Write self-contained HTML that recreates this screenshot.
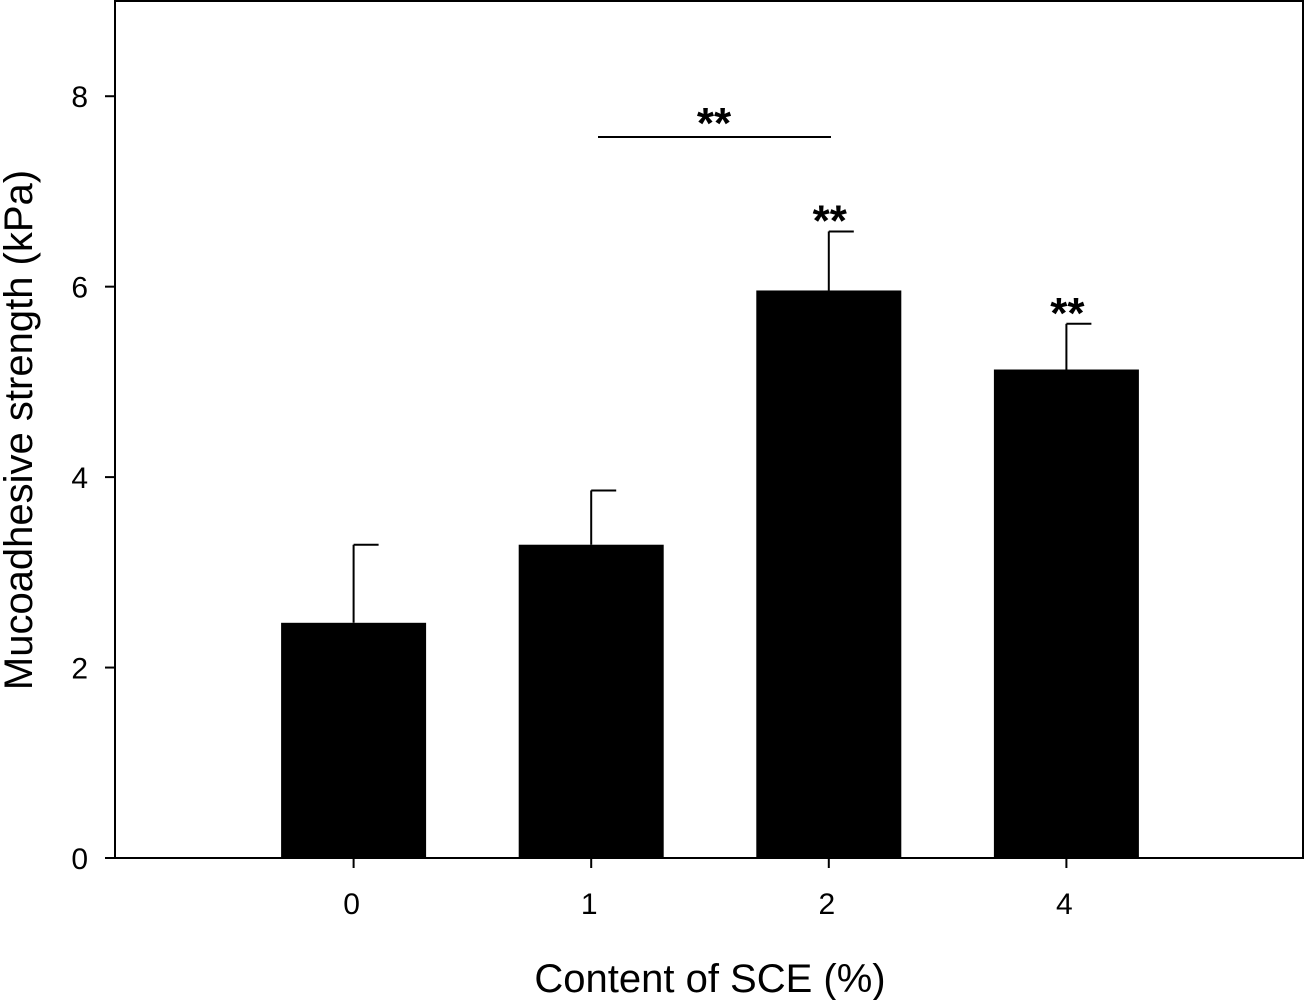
<!DOCTYPE html>
<html><head><meta charset="utf-8"><style>
html,body{margin:0;padding:0;background:#fff;}
svg{display:block;font-family:"Liberation Sans",sans-serif;}
</style></head><body>
<svg id="chart" width="1307" height="1000"></svg>
<script>
const categories = ["0","1","2","4"];
const means = [2.47, 3.29, 5.96, 5.13];
const errors = [0.82, 0.57, 0.62, 0.48];
const yTicks = [0, 2, 4, 6, 8];
const stars = ["", "", "**", "**"];

const NS = "http://www.w3.org/2000/svg";
const svg = document.getElementById("chart");
const L = 115, R = 1303, T = 1, B = 858, yMax = 9, slots = 5;
const y = v => B - (v / yMax) * (B - T);
const x = i => L + (i + 1) * (R - L) / slots;
const barW = 145;
function mk(tag, attrs, parent) {
  const e = document.createElementNS(NS, tag);
  for (const k in attrs) e.setAttribute(k, attrs[k]);
  (parent || svg).appendChild(e);
  return e;
}
categories.forEach((c, i) => {
  const cx = x(i) + 1, top = y(means[i]), et = y(means[i] + errors[i]);
  const el = mk("line", {x1: cx, x2: cx, y1: top, y2: et, stroke: "#000", "stroke-width": 2});
  
  
  const cap = mk("line", {x1: cx, x2: cx + 25, y1: et, y2: et, stroke: "#000", "stroke-width": 2});
  
  
  const b = mk("rect", {x: cx - barW / 2, y: top, width: barW, height: B - top, fill: "#000"});
  
  
  if (stars[i]) {
    const s = mk("text", {x: cx + 1, y: et + 4, "text-anchor": "middle", "font-size": 44, "font-weight": "bold", fill: "#000"});
    s.textContent = stars[i];
    
    
  }
  const tk = mk("line", {x1: cx, x2: cx, y1: B, y2: B + 10, stroke: "#000", "stroke-width": 2});
  
  
  const tl = mk("text", {x: cx - 2, y: 914, "text-anchor": "middle", "font-size": 30, fill: "#000"});
  tl.textContent = c;
  
  
});
yTicks.forEach(v => {
  const tk = mk("line", {x1: L - 10, x2: L, y1: y(v), y2: y(v), stroke: "#000", "stroke-width": 2});
  
  
  const tl = mk("text", {x: 88, y: y(v) + 11, "text-anchor": "end", "font-size": 30, fill: "#000"});
  tl.textContent = v;
  
  
});
const fr = mk("rect", {x: L, y: T, width: R - L, height: B - T, fill: "none", stroke: "#000", "stroke-width": 2});


const br = mk("line", {x1: 598, x2: 831, y1: 137, y2: 137, stroke: "#000", "stroke-width": 2});


const bs = mk("text", {x: 714, y: 138, "text-anchor": "middle", "font-size": 44, "font-weight": "bold", fill: "#000"});
bs.textContent = "**";


const xt = mk("text", {x: 710, y: 992, "text-anchor": "middle", "font-size": 40, fill: "#000"});
xt.textContent = "Content of SCE (%)";


const yt = mk("text", {x: 0, y: 0, "text-anchor": "middle", "font-size": 40, fill: "#000", transform: "translate(32,430) rotate(-90)"});
yt.textContent = "Mucoadhesive strength (kPa)";


</script>
</body></html>
